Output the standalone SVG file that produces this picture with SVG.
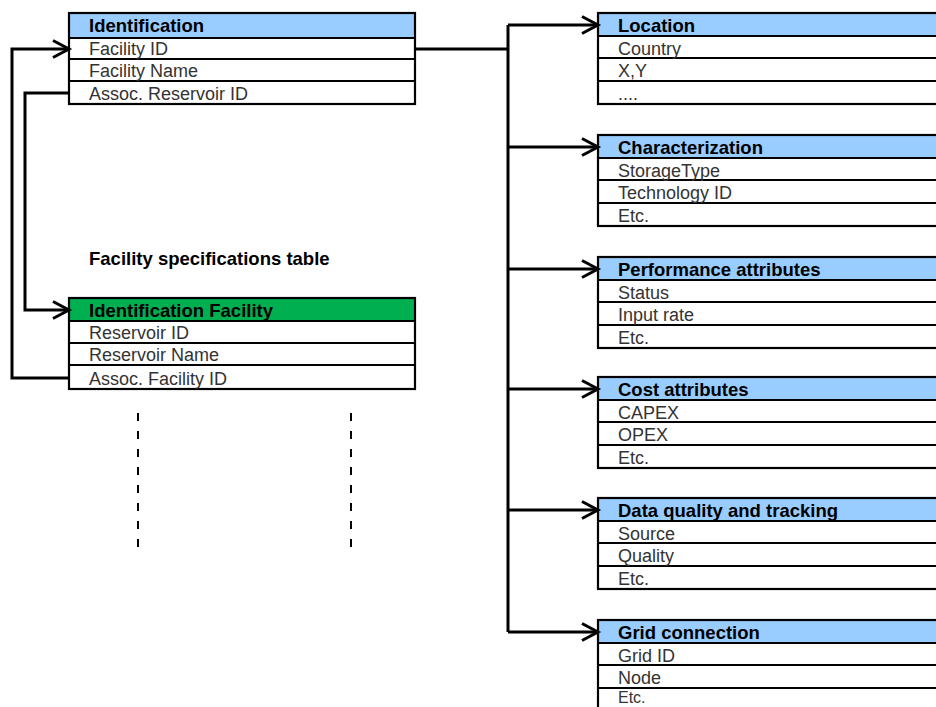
<svg xmlns="http://www.w3.org/2000/svg" width="936" height="707" viewBox="0 0 936 707">
  <style>
    .hdr { fill: #99CCFF; }
    .hdr-green { fill: #00B050; }
    .body { fill: #FFFFFF; }
    .grid { stroke: #000000; stroke-width: 2.2; fill: none; }
    .title { font-family: "Liberation Sans", Arial, sans-serif; font-size: 18.5px; font-weight: bold; fill: #000000; }
    .row { font-family: "Liberation Sans", Arial, sans-serif; font-size: 18px; fill: #333333; }
    .link { stroke: #000000; stroke-width: 3; fill: none; }
    .dash { stroke: #000000; stroke-width: 2; stroke-dasharray: 8 10; fill: none; }
  </style>
  <defs>
    <marker id="chevron" markerUnits="userSpaceOnUse" viewBox="-20 -12 24 24" markerWidth="24" markerHeight="24" refX="0" refY="0" orient="auto" overflow="visible">
      <path d="M-16,-8.5 L0,0 L-16,8.5" stroke="#000000" stroke-width="3" fill="none" stroke-linejoin="miter"/>
    </marker>
  </defs>

  <rect width="936" height="707" fill="#FFFFFF"/>

  <!-- Facility identification table -->
  <g id="identification">
    <rect class="body" x="69" y="13" width="346" height="91"/>
    <rect class="hdr" x="69" y="13" width="346" height="25"/>
    <rect class="grid" x="69" y="13" width="346" height="91"/>
    <path class="grid" d="M69,38 H415 M69,59 H415 M69,81 H415"/>
    <text class="title" x="89" y="32">Identification</text>
    <text class="row" x="89" y="55">Facility ID</text>
    <text class="row" x="89" y="77">Facility Name</text>
    <text class="row" x="89" y="100">Assoc. Reservoir ID</text>
  </g>

  <text id="spec-label" class="title" x="89" y="265">Facility specifications table</text>

  <!-- Reservoir side table -->
  <g id="identification-facility">
    <rect class="body" x="69" y="298" width="346" height="91"/>
    <rect class="hdr-green" x="69" y="298" width="346" height="23"/>
    <rect class="grid" x="69" y="298" width="346" height="91"/>
    <path class="grid" d="M69,321 H415 M69,343 H415 M69,365 H415"/>
    <text class="title" x="89" y="317">Identification Facility</text>
    <text class="row" x="89" y="339">Reservoir ID</text>
    <text class="row" x="89" y="361">Reservoir Name</text>
    <text class="row" x="89" y="385">Assoc. Facility ID</text>
  </g>

  <!-- Attribute tables -->
  <g id="location">
    <rect class="body" x="598" y="13" width="350" height="91"/>
    <rect class="hdr" x="598" y="13" width="350" height="23"/>
    <rect class="grid" x="598" y="13" width="350" height="91"/>
    <path class="grid" d="M598,36 H948 M598,58 H948 M598,81 H948"/>
    <text class="title" x="618" y="32">Location</text>
    <text class="row" x="618" y="55">Country</text>
    <text class="row" x="618" y="77">X,Y</text>
    <text class="row" x="618" y="100">....</text>
  </g>

  <g id="characterization">
    <rect class="body" x="598" y="135" width="350" height="91"/>
    <rect class="hdr" x="598" y="135" width="350" height="23"/>
    <rect class="grid" x="598" y="135" width="350" height="91"/>
    <path class="grid" d="M598,158 H948 M598,180 H948 M598,203 H948"/>
    <text class="title" x="618" y="154">Characterization</text>
    <text class="row" x="618" y="177">StorageType</text>
    <text class="row" x="618" y="199">Technology ID</text>
    <text class="row" x="618" y="222">Etc.</text>
  </g>

  <g id="performance">
    <rect class="body" x="598" y="257" width="350" height="91"/>
    <rect class="hdr" x="598" y="257" width="350" height="23"/>
    <rect class="grid" x="598" y="257" width="350" height="91"/>
    <path class="grid" d="M598,280 H948 M598,302 H948 M598,325 H948"/>
    <text class="title" x="618" y="276">Performance attributes</text>
    <text class="row" x="618" y="299">Status</text>
    <text class="row" x="618" y="321">Input rate</text>
    <text class="row" x="618" y="344">Etc.</text>
  </g>

  <g id="cost">
    <rect class="body" x="598" y="377" width="350" height="91"/>
    <rect class="hdr" x="598" y="377" width="350" height="23"/>
    <rect class="grid" x="598" y="377" width="350" height="91"/>
    <path class="grid" d="M598,400 H948 M598,422 H948 M598,445 H948"/>
    <text class="title" x="618" y="396">Cost attributes</text>
    <text class="row" x="618" y="419">CAPEX</text>
    <text class="row" x="618" y="441">OPEX</text>
    <text class="row" x="618" y="464">Etc.</text>
  </g>

  <g id="data-quality">
    <rect class="body" x="598" y="498" width="350" height="91"/>
    <rect class="hdr" x="598" y="498" width="350" height="23"/>
    <rect class="grid" x="598" y="498" width="350" height="91"/>
    <path class="grid" d="M598,521 H948 M598,543 H948 M598,566 H948"/>
    <text class="title" x="618" y="517">Data quality and tracking</text>
    <text class="row" x="618" y="540">Source</text>
    <text class="row" x="618" y="562">Quality</text>
    <text class="row" x="618" y="585">Etc.</text>
  </g>

  <g id="grid-connection">
    <rect class="body" x="598" y="620" width="350" height="91"/>
    <rect class="hdr" x="598" y="620" width="350" height="23"/>
    <rect class="grid" x="598" y="620" width="350" height="91"/>
    <path class="grid" d="M598,643 H948 M598,665 H948 M598,688 H948"/>
    <text class="title" x="618" y="639">Grid connection</text>
    <text class="row" x="618" y="662">Grid ID</text>
    <text class="row" x="618" y="684">Node</text>
    <text class="row" x="618" y="703" style="font-size:16px">Etc.</text>
  </g>

  <!-- Connectors -->
  <g id="connectors">
    <path class="link" d="M415,49 H508"/>
    <path class="link" d="M508,25 V632"/>
    <path class="link" d="M508,25 H598" marker-end="url(#chevron)"/>
    <path class="link" d="M508,147 H598" marker-end="url(#chevron)"/>
    <path class="link" d="M508,269 H598" marker-end="url(#chevron)"/>
    <path class="link" d="M508,389 H598" marker-end="url(#chevron)"/>
    <path class="link" d="M508,510 H598" marker-end="url(#chevron)"/>
    <path class="link" d="M508,632 H598" marker-end="url(#chevron)"/>
    <path class="link" d="M70,378 H12 V49 H69" marker-end="url(#chevron)"/>
    <path class="link" d="M70,93 H25 V310 H69" marker-end="url(#chevron)"/>
    <path class="dash" d="M138,413 V547"/>
    <path class="dash" d="M351,413 V547"/>
  </g>
</svg>
